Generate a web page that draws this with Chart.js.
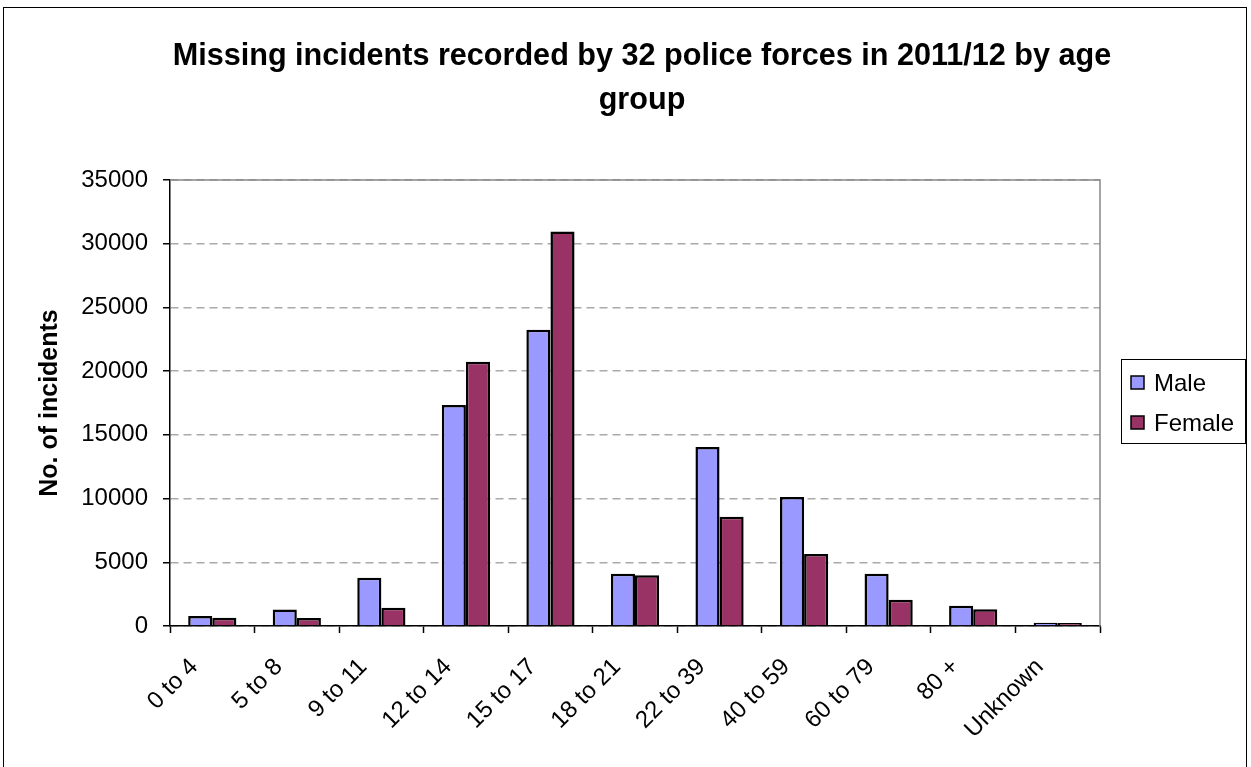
<!DOCTYPE html>
<html>
<head>
<meta charset="utf-8">
<script src="https://cdn.jsdelivr.net/npm/chart.js@4.4.0/dist/chart.umd.min.js"></script>
<style>
  body { margin: 0; background: #fff; }
  #wrap { width: 1251px; height: 767px; position: relative; }
</style>
</head>
<body>
<div id="wrap"><canvas id="edadChart"></canvas></div>
<script>
const labels = ["0 to 4", "5 to 8", "9 to 11", "12 to 14", "15 to 17", "18 to 21", "22 to 39", "40 to 59", "60 to 79", "80 +", "Unknown"];
const maleValues = [790, 1290, 3790, 17350, 23250, 4100, 14050, 10120, 4100, 1590, 250];
const femaleValues = [650, 630, 1440, 20730, 30950, 3980, 8580, 5650, 2060, 1310, 230];
const yTicks = [0, 5000, 10000, 15000, 20000, 25000, 30000, 35000];
const titleLines = ["Missing incidents recorded by 32 police forces in 2011/12 by age", "group"];

const fontName = "'Liberation Sans', Arial, sans-serif";

// marco exterior, borde del area de trazado y leyenda con caja
const marcos = {
  id: "marcos",
  beforeDatasetsDraw(chart) {
    const { ctx, chartArea: a } = chart;
    ctx.save();
    ctx.strokeStyle = "#888";
    ctx.lineWidth = 1.5;
    ctx.beginPath();
    ctx.moveTo(a.left, a.top);
    ctx.lineTo(a.right, a.top);
    ctx.lineTo(a.right, a.bottom);
    ctx.stroke();
    ctx.restore();
  },
  afterDraw(chart) {
    const ctx = chart.ctx;
    ctx.save();
    ctx.strokeStyle = "#000";
    ctx.lineWidth = 1;
    ctx.strokeRect(3.5, 7.5, 1243, 800);

    // leyenda
    ctx.strokeRect(1121.5, 359.5, 124, 84);
    ctx.font = "24px " + fontName;
    ctx.textBaseline = "middle";
    chart.data.datasets.forEach((ds, i) => {
      const y = 383 + i * 40;
      ctx.fillStyle = ds.backgroundColor;
      ctx.fillRect(1131, y - 7, 13, 13);
      ctx.strokeStyle = "#000";
      ctx.lineWidth = 1.5;
      ctx.strokeRect(1131, y - 7, 13, 13);
      ctx.fillStyle = "#000";
      ctx.fillText(ds.label, 1154, y + 1);
    });
    ctx.restore();
  },
};

let grafico = new Chart("edadChart", {
  type: "bar",
  data: {
    labels: labels,
    datasets: [
      {
        label: "Male",
        data: maleValues,
        backgroundColor: "#9999FF",
        borderColor: "#000",
        borderWidth: 2.5,
        barPercentage: 1,
        categoryPercentage: 0.57,
      },
      {
        label: "Female",
        data: femaleValues,
        backgroundColor: "#993366",
        borderColor: "#000",
        borderWidth: 2.5,
        barPercentage: 1,
        categoryPercentage: 0.57,
      },
    ],
  },
  options: {
    responsive: true,
    maintainAspectRatio: false,
    animation: false,
    layout: { padding: { left: 33, right: 0, top: 0, bottom: 0 } },
    plugins: {
      legend: { display: false },
      tooltip: { enabled: false },
      title: {
        display: true,
        text: titleLines,
        color: "#000",
        font: { family: fontName, size: 30.6, weight: "bold", lineHeight: 1.42 },
        padding: { top: 35.3, bottom: 57.8 },
      },
    },
    scales: {
      x: {
        afterFit(scale) {
          scale.height = 141;
        },
        border: { color: "#000", width: 1.5 },
        grid: {
          offset: true,
          drawOnChartArea: false,
          tickLength: 7,
          tickColor: "#000",
          tickWidth: 1.5,
        },
        ticks: {
          color: "#000",
          font: { family: fontName, size: 24 },
          maxRotation: 45,
          minRotation: 45,
          padding: 20,
          labelOffset: -18,
        },
      },
      y: {
        min: 0,
        max: 35000,
        afterFit(scale) {
          scale.width = 137;
        },
        afterBuildTicks(scale) {
          scale.ticks = yTicks.map((v) => ({ value: v }));
        },
        border: { color: "#000", width: 1.5, dash: [8, 5] },
        grid: {
          color: "#aaa",
          lineWidth: 1.5,
          tickLength: 7,
          tickColor: "#000",
          tickWidth: 1.5,
          tickBorderDash: [],
        },
        ticks: {
          color: "#000",
          font: { family: fontName, size: 24 },
          padding: 15,
          callback: (v) => String(v),
        },
        title: {
          display: true,
          text: "No. of incidents",
          color: "#000",
          font: { family: fontName, size: 25, weight: "bold" },
          padding: { top: 2, bottom: 0 },
        },
      },
      // eje vacio a la derecha, solo reserva el sitio de la leyenda
      yLeyenda: {
        position: "right",
        display: true,
        afterFit(scale) {
          scale.width = 151;
        },
        grid: { display: false },
        border: { display: false },
        ticks: { display: false },
      },
    },
  },
  plugins: [marcos],
});
</script>
</body>
</html>
